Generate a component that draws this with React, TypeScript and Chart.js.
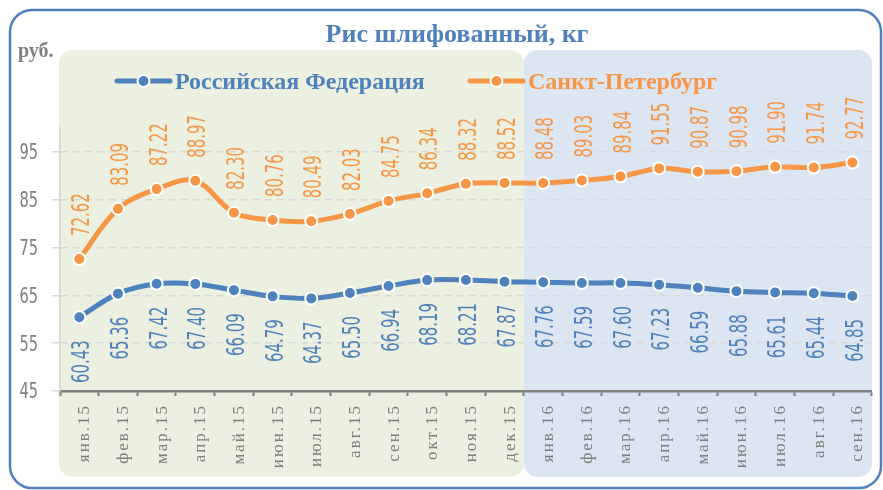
import React, { useEffect, useRef } from 'react';
import { Chart, registerables } from 'chart.js';

Chart.register(...registerables);

const months = [
  'янв.15', 'фев.15', 'мар.15', 'апр.15', 'май.15', 'июн.15', 'июл.15', 'авг.15', 'сен.15', 'окт.15', 'ноя.15', 'дек.15',
  'янв.16', 'фев.16', 'мар.16', 'апр.16', 'май.16', 'июн.16', 'июл.16', 'авг.16', 'сен.16',
];
const russiaValues = [60.43, 65.36, 67.42, 67.40, 66.09, 64.79, 64.37, 65.50, 66.94, 68.19, 68.21, 67.87, 67.76, 67.59, 67.60, 67.23, 66.59, 65.88, 65.61, 65.44, 64.85];
const spbValues = [72.62, 83.09, 87.22, 88.97, 82.30, 80.76, 80.49, 82.03, 84.75, 86.34, 88.32, 88.52, 88.48, 89.03, 89.84, 91.55, 90.87, 90.98, 91.90, 91.74, 92.77];
const yTickValues = [45, 55, 65, 75, 85, 95];
const yMin = 45;
const yMax = 100;
const titleText = 'Рис шлифованный, кг';
const unitText = 'руб.';
const seriesNames = ['Российская Федерация', 'Санкт-Петербург'];

const BLUE = 'rgb(79,129,189)';
const ORANGE = 'rgb(247,150,70)';
const GREEN_BG = 'rgb(235,240,224)';
const BLUE_BG = 'rgb(220,230,242)';
const GRAY = '#7f7f7f';
const GRID = '#d9d9d9';
const SERIF = '"Liberation Serif", "Times New Roman", serif';
const NUM = '"DejaVu Sans", sans-serif';

function drawCondensed(
  ctx: CanvasRenderingContext2D, text: string, x: number, y: number,
  size: number, digitW: number, align: CanvasTextAlign, rotate: boolean, color: string,
) {
  ctx.save();
  ctx.font = `${size}px ${NUM}`;
  const sx = digitW / ctx.measureText('0').width;
  const capH = size * 0.729;
  ctx.translate(x, y);
  if (rotate) ctx.rotate(-Math.PI / 2);
  ctx.scale(sx, 1);
  ctx.fillStyle = color;
  ctx.textAlign = align;
  ctx.textBaseline = 'alphabetic';
  ctx.fillText(text, 0, capH / 2);
  ctx.restore();
}

function roundRect(ctx: CanvasRenderingContext2D, x: number, y: number, w: number, h: number, r: number) {
  ctx.beginPath();
  ctx.moveTo(x + r, y);
  ctx.lineTo(x + w - r, y);
  ctx.arcTo(x + w, y, x + w, y + r, r);
  ctx.lineTo(x + w, y + h - r);
  ctx.arcTo(x + w, y + h, x + w - r, y + h, r);
  ctx.lineTo(x + r, y + h);
  ctx.arcTo(x, y + h, x, y + h - r, r);
  ctx.lineTo(x, y + r);
  ctx.arcTo(x, y, x + r, y, r);
  ctx.closePath();
}

const decorPlugin = {
  id: 'decor',
  beforeDraw(chart: any) {
    const ctx: CanvasRenderingContext2D = chart.ctx;
    const xs = chart.scales.x;
    const area = chart.chartArea;
    ctx.save();
    ctx.fillStyle = '#ffffff';
    ctx.fillRect(0, 0, chart.width, chart.height);

    // year panels
    const firstYearCount = months.filter((m) => m.endsWith('.15')).length;
    const half = (xs.getPixelForValue(1) - xs.getPixelForValue(0)) / 2;
    const split = xs.getPixelForValue(firstYearCount - 1) + half;
    const panelTop = 50;
    const panelBottom = 477;
    ctx.fillStyle = GREEN_BG;
    roundRect(ctx, area.left - 1, panelTop, split - area.left + 1, panelBottom - panelTop, 14);
    ctx.fill();
    ctx.fillStyle = BLUE_BG;
    roundRect(ctx, split, panelTop, area.right + 0.5 - split, panelBottom - panelTop, 14);
    ctx.fill();

    // outer frame
    ctx.strokeStyle = BLUE;
    ctx.lineWidth = 2.5;
    roundRect(ctx, 10, 10, 871, 478, 22);
    ctx.stroke();

    // title
    ctx.fillStyle = BLUE;
    ctx.font = `bold 26px ${SERIF}`;
    ctx.textAlign = 'center';
    ctx.textBaseline = 'alphabetic';
    ctx.fillText(titleText, 457, 42);

    // unit
    ctx.fillStyle = GRAY;
    ctx.font = `bold 20px ${SERIF}`;
    ctx.textAlign = 'left';
    ctx.fillText(unitText, 18, 57);

    // legend
    const items = [
      { name: seriesNames[0], color: BLUE, x: 115 },
      { name: seriesNames[1], color: ORANGE, x: 468 },
    ];
    for (const it of items) {
      const ly = 81;
      ctx.strokeStyle = it.color;
      ctx.lineWidth = 5;
      ctx.lineCap = 'round';
      ctx.beginPath();
      ctx.moveTo(it.x + 2, ly);
      ctx.lineTo(it.x + 55, ly);
      ctx.stroke();
      ctx.beginPath();
      ctx.arc(it.x + 28.5, ly, 6, 0, Math.PI * 2);
      ctx.fillStyle = it.color;
      ctx.fill();
      ctx.lineWidth = 2;
      ctx.strokeStyle = '#ffffff';
      ctx.stroke();
      ctx.fillStyle = it.color;
      ctx.font = `bold 24px ${SERIF}`;
      ctx.textAlign = 'left';
      ctx.fillText(it.name, it.x + 60, 89);
    }
    ctx.restore();
  },
  afterDraw(chart: any) {
    const ctx: CanvasRenderingContext2D = chart.ctx;
    const ys = chart.scales.y;
    const xs = chart.scales.x;
    // y tick labels
    for (const v of yTickValues) {
      drawCondensed(ctx, String(v), 38, ys.getPixelForValue(v), 20.5, 9.3, 'right', false, GRAY);
    }
    // x tick labels (letter-spaced serif, rotated)
    chart.data.labels.forEach((lab: string, i: number) => {
      const px = xs.getPixelForValue(i);
      ctx.save();
      ctx.translate(px + 10, xs.top + 15);
      ctx.rotate(-Math.PI / 2);
      ctx.font = `17px ${SERIF}`;
      (ctx as any).letterSpacing = '2px';
      ctx.fillStyle = GRAY;
      ctx.textAlign = 'right';
      ctx.textBaseline = 'alphabetic';
      ctx.fillText(lab, 2, 0);
      ctx.restore();
    });
    // data labels
    chart.data.datasets.forEach((ds: any, di: number) => {
      const meta = chart.getDatasetMeta(di);
      meta.data.forEach((pt: any, i: number) => {
        const txt = Number(ds.data[i]).toFixed(2);
        if (di === 1) {
          drawCondensed(ctx, txt, pt.x + 1, pt.y - 23, 25, 9.5, 'left', true, ORANGE);
        } else {
          drawCondensed(ctx, txt, pt.x + 1, pt.y + 23, 25, 9.5, 'right', true, BLUE);
        }
      });
    });
  },
};

export default function App() {
  const ref = useRef<HTMLCanvasElement | null>(null);
  useEffect(() => {
    if (!ref.current) return;
    const chart = new Chart(ref.current, {
      type: 'line',
      data: {
        labels: months,
        datasets: [
          {
            label: seriesNames[0],
            data: russiaValues,
            borderColor: BLUE,
            backgroundColor: BLUE,
            borderWidth: 5,
            pointRadius: 6,
            pointBorderWidth: 2,
            pointBorderColor: '#ffffff',
            pointBackgroundColor: BLUE,
            tension: 0.35,
          },
          {
            label: seriesNames[1],
            data: spbValues,
            borderColor: ORANGE,
            backgroundColor: ORANGE,
            borderWidth: 5,
            pointRadius: 6,
            pointBorderWidth: 2,
            pointBorderColor: '#ffffff',
            pointBackgroundColor: ORANGE,
            tension: 0.35,
          },
        ],
      },
      options: {
        responsive: false,
        animation: false,
        layout: { padding: { left: 0, right: 5.5, top: 128, bottom: 0 } },
        plugins: { legend: { display: false }, title: { display: false }, tooltip: { enabled: false } },
        scales: {
          x: {
            offset: true,
            afterFit: (s: any) => { s.height = 99; },
            grid: { drawOnChartArea: false, drawTicks: true, tickLength: 5, tickColor: GRAY, tickWidth: 2, offset: true },
            border: { color: GRAY, width: 2.5 },
            ticks: {
              autoSkip: false, minRotation: 90, maxRotation: 90, padding: 10,
              color: 'rgba(0,0,0,0)', font: { family: SERIF, size: 17 },
            },
          },
          y: {
            min: yMin,
            max: yMax,
            afterFit: (s: any) => { s.width = 60; },
            afterBuildTicks: (s: any) => { s.ticks = yTickValues.map((v) => ({ value: v })); },
            grid: { color: GRID, lineWidth: 1.5, tickLength: 8, tickColor: GRID, drawTicks: true },
            border: { color: GRID, width: 2, dash: [7, 5] },
            ticks: { display: false },
          },
        },
      },
      plugins: [decorPlugin],
    });
    return () => chart.destroy();
  }, []);
  return (
    <div style={{ position: 'fixed', left: 0, top: 0, width: 883, height: 490 }}>
      <canvas ref={ref} width={883} height={490} style={{ display: 'block' }} />
    </div>
  );
}
